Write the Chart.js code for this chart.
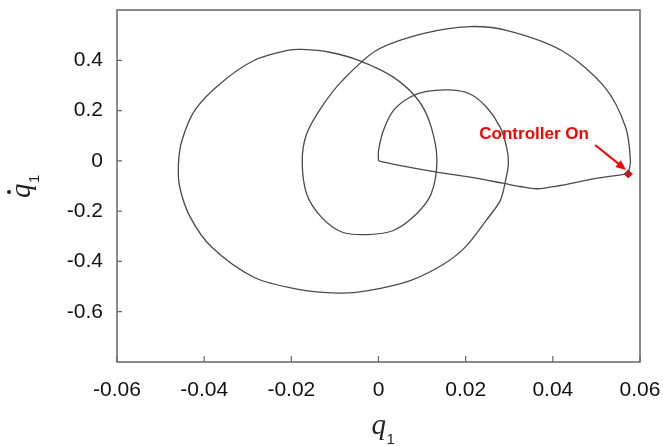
<!DOCTYPE html>
<html>
<head>
<meta charset="utf-8">
<script src="https://cdn.jsdelivr.net/npm/chart.js@4"></script>
<style>
  html, body { margin: 0; padding: 0; background: #fff; }
  #phase { display: block; }
</style>
</head>
<body>
<canvas id="phase" width="663" height="446"></canvas>
<script>
// phase portrait q1 vs q1-dot, free motion then controller switched on

// free response (origin -> point where controller switches on)
const freeQ = [0, 0, 0.0011, 0.0034, 0.0072, 0.011, 0.0164, 0.021, 0.0248, 0.0279, 0.0294, 0.0298,
  0.029, 0.0279, 0.0247, 0.0199, 0.015, 0.0073, -0.0024, -0.0092, -0.019, -0.0286, -0.0383, -0.0432,
  -0.0456, -0.0459, -0.0451, -0.0422, -0.0364, -0.0286, -0.0209, -0.0175, -0.0112, -0.0044, 0.0034,
  0.0092, 0.0121, 0.0134, 0.0121, 0.0087, 0.0034, -0.0024, -0.0083, -0.0131, -0.0165, -0.0175,
  -0.0165, -0.0131, -0.0083, -0.0005, 0.0102, 0.0209, 0.0296, 0.0422, 0.0519, 0.0567, 0.0578, 0.0573];
const freeQdot = [0, 0.04, 0.12, 0.2, 0.253, 0.276, 0.282, 0.266, 0.213, 0.134, 0.054, -0.012,
  -0.091, -0.159, -0.237, -0.343, -0.41, -0.476, -0.516, -0.526, -0.509, -0.463, -0.343, -0.224,
  -0.105, -0.012, 0.081, 0.2, 0.306, 0.399, 0.439, 0.443, 0.432, 0.399, 0.333,
  0.24, 0.134, 0.001, -0.131, -0.211, -0.277, -0.293, -0.284, -0.224, -0.131, 0.001,
  0.107, 0.213, 0.319, 0.439, 0.506, 0.534, 0.518, 0.437, 0.293, 0.134, 0.0, -0.052];

// controlled response (switch-on point -> origin)
const ctrlQ = [0.0573, 0.0493, 0.0417, 0.0363, 0.0325, 0.0286, 0.021, 0.0134, 0.0057, 0];
const ctrlQdot = [-0.052, -0.072, -0.098, -0.111, -0.102, -0.089, -0.065, -0.045, -0.021, 0];

const switchQ = [0.0573];
const switchQdot = [-0.052];

const xTicks = [-0.06, -0.04, -0.02, 0, 0.02, 0.04, 0.06];
const xTickLabels = ['-0.06', '-0.04', '-0.02', '0', '0.02', '0.04', '0.06'];
const yTicks = [-0.6, -0.4, -0.2, 0, 0.2, 0.4];
const yTickLabels = ['-0.6', '-0.4', '-0.2', '0', '0.2', '0.4'];

// annotation (data units)
const noteText = 'Controller On';
const notePos = [0.0357, 0.105];
const arrowFrom = [0.0497, 0.063];
const arrowTo = [0.0568, -0.036];

const RED = '#ff0000';
const LINE = '#4a4a4a';

function toPoints(xs, ys) {
  return xs.map((x, i) => ({ x: x, y: ys[i] }));
}

// box around the plot + inward tick marks
const frameBox = {
  id: 'frameBox',
  afterDraw(chart) {
    const { ctx, chartArea: a, scales } = chart;
    ctx.save();
    ctx.strokeStyle = '#666';
    ctx.lineWidth = 1.5;
    ctx.strokeRect(a.left, a.top, a.right - a.left, a.bottom - a.top);
    ctx.lineWidth = 1.2;
    ctx.beginPath();
    xTicks.forEach(v => {
      const px = scales.x.getPixelForValue(v);
      ctx.moveTo(px, a.bottom);
      ctx.lineTo(px, a.bottom - 6);
    });
    yTicks.forEach(v => {
      const py = scales.y.getPixelForValue(v);
      ctx.moveTo(a.left, py);
      ctx.lineTo(a.left + 5, py);
    });
    ctx.stroke();
    ctx.restore();
  }
};

// axis titles with subscript / dot
const axisTitles = {
  id: 'axisTitles',
  afterDraw(chart) {
    const { ctx, chartArea: a } = chart;
    ctx.save();
    ctx.fillStyle = '#222';
    // x title: q1
    const cx = (a.left + a.right) / 2;
    ctx.font = 'italic 29px "Liberation Serif", serif';
    ctx.textBaseline = 'alphabetic';
    ctx.textAlign = 'left';
    ctx.fillText('q', cx - 7, 434);
    ctx.font = '15px "Liberation Sans", Arial, sans-serif';
    ctx.fillText('1', cx + 8, 444);

    // y title: q-dot 1, rotated
    ctx.translate(30, 191);
    ctx.rotate(-Math.PI / 2);
    ctx.font = 'italic 29px "Liberation Serif", serif';
    ctx.fillText('q', -7, 0);
    ctx.beginPath();
    ctx.arc(-1, -21, 2, 0, Math.PI * 2);
    ctx.fill();
    ctx.font = '15px "Liberation Sans", Arial, sans-serif';
    ctx.fillText('1', 8, 9);
    ctx.restore();
  }
};

// "Controller On" label + arrow
const switchNote = {
  id: 'switchNote',
  afterDatasetsDraw(chart) {
    const { ctx, scales } = chart;
    const x0 = scales.x.getPixelForValue(arrowFrom[0]);
    const y0 = scales.y.getPixelForValue(arrowFrom[1]);
    const x1 = scales.x.getPixelForValue(arrowTo[0]);
    const y1 = scales.y.getPixelForValue(arrowTo[1]);
    const ang = Math.atan2(y1 - y0, x1 - x0);
    ctx.save();
    ctx.strokeStyle = RED;
    ctx.fillStyle = RED;
    ctx.lineWidth = 2;
    ctx.beginPath();
    ctx.moveTo(x0, y0);
    ctx.lineTo(x1 - 6 * Math.cos(ang), y1 - 6 * Math.sin(ang));
    ctx.stroke();
    ctx.beginPath();
    ctx.moveTo(x1, y1);
    ctx.lineTo(x1 - 11 * Math.cos(ang - 0.4), y1 - 11 * Math.sin(ang - 0.4));
    ctx.lineTo(x1 - 11 * Math.cos(ang + 0.4), y1 - 11 * Math.sin(ang + 0.4));
    ctx.closePath();
    ctx.fill();

    ctx.font = 'bold 17px "Liberation Sans", Arial, sans-serif';
    ctx.textAlign = 'center';
    ctx.textBaseline = 'middle';
    ctx.fillText(noteText, scales.x.getPixelForValue(notePos[0]), scales.y.getPixelForValue(notePos[1]));
    ctx.restore();
  }
};

const tickFont = { family: '"Liberation Sans", Arial, sans-serif', size: 21 };

new Chart(document.getElementById('phase'), {
  type: 'scatter',
  data: {
    datasets: [
      {
        data: toPoints(freeQ, freeQdot),
        showLine: true,
        borderColor: LINE,
        borderWidth: 1.3,
        pointRadius: 0,
        tension: 0.3
      },
      {
        data: toPoints(ctrlQ, ctrlQdot),
        showLine: true,
        borderColor: LINE,
        borderWidth: 1.3,
        pointRadius: 0,
        tension: 0.3
      },
      {
        data: toPoints(switchQ, switchQdot),
        showLine: false,
        pointStyle: 'rectRot',
        pointRadius: 4,
        backgroundColor: RED,
        borderColor: RED
      }
    ]
  },
  options: {
    responsive: false,
    animation: false,
    layout: { padding: { top: 10, right: 23, left: 0, bottom: 0 } },
    plugins: {
      legend: { display: false },
      tooltip: { enabled: false }
    },
    scales: {
      x: {
        type: 'linear',
        min: -0.06,
        max: 0.06,
        grid: { display: false, drawTicks: false },
        border: { display: false },
        afterBuildTicks: s => { s.ticks = xTicks.map(v => ({ value: v })); },
        afterFit: s => { s.height = 84; s.paddingLeft = 0; s.paddingRight = 0; },
        ticks: {
          padding: 16,
          maxRotation: 0,
          autoSkip: false,
          color: '#111',
          font: tickFont,
          callback: (v, i) => xTickLabels[i]
        }
      },
      y: {
        type: 'linear',
        min: -0.8,
        max: 0.6,
        grid: { display: false, drawTicks: false },
        border: { display: false },
        afterBuildTicks: s => { s.ticks = yTicks.map(v => ({ value: v })); },
        afterFit: s => { s.width = 117; s.paddingTop = 0; s.paddingBottom = 0; },
        ticks: {
          padding: 14,
          autoSkip: false,
          color: '#111',
          font: tickFont,
          callback: (v, i) => yTickLabels[i]
        }
      }
    }
  },
  plugins: [frameBox, axisTitles, switchNote]
});
</script>
</body>
</html>
